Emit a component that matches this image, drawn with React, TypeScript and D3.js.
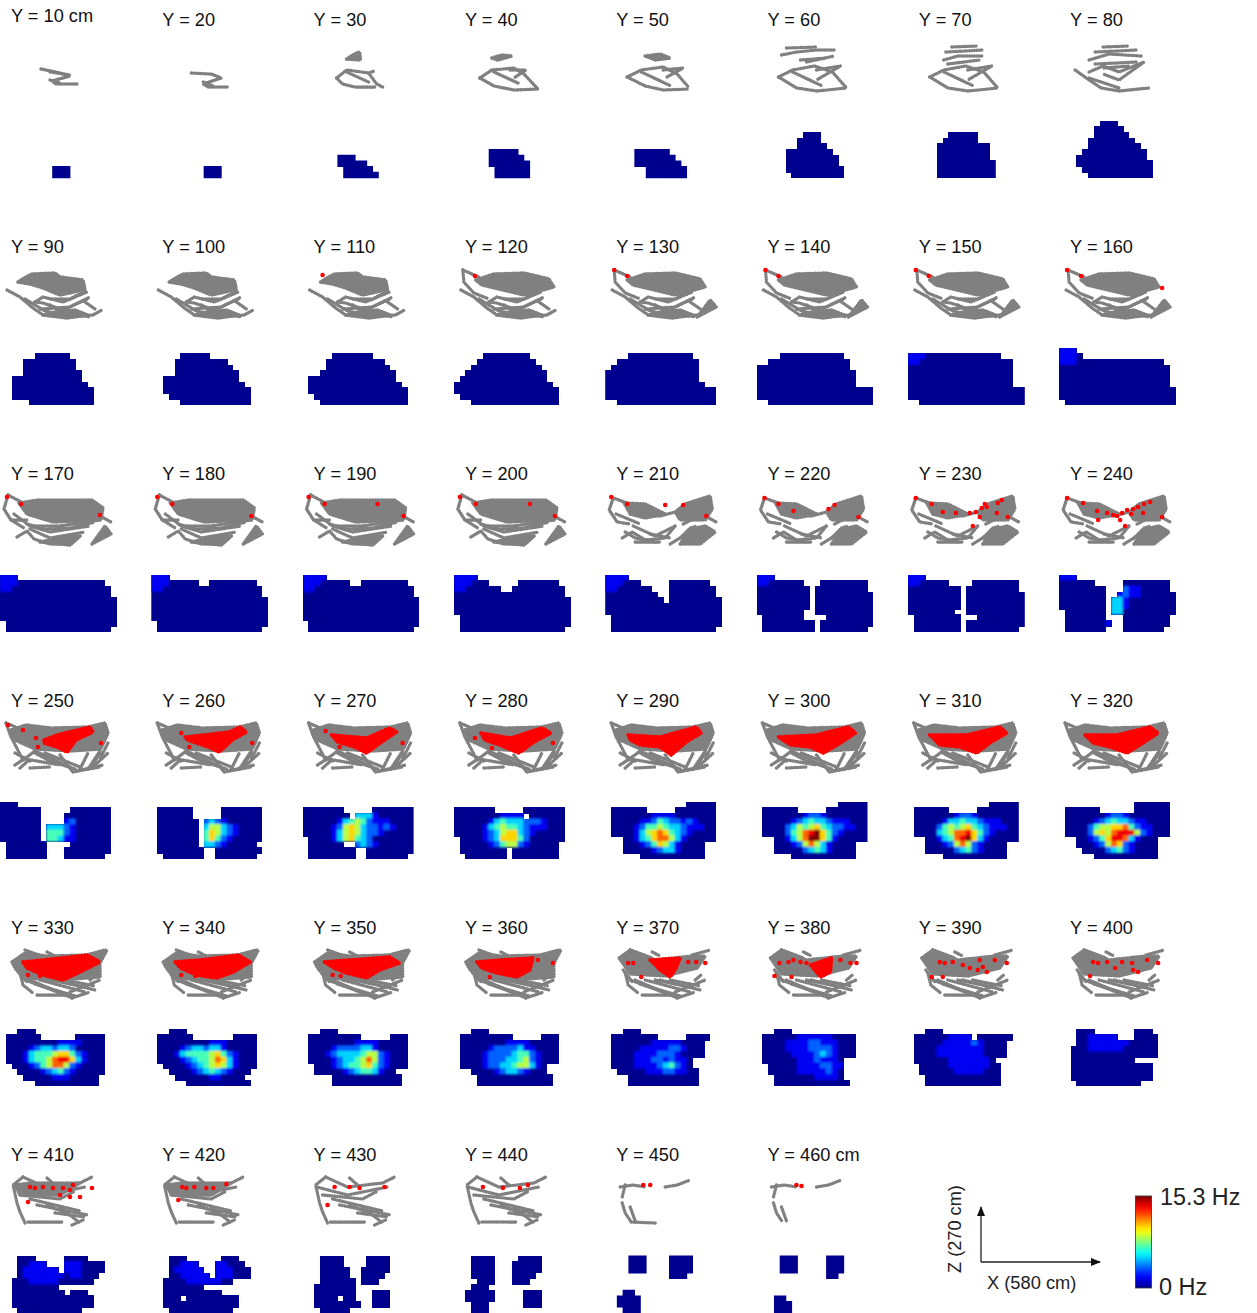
import React from "react";
import * as d3 from "d3";

// Slice positions along the Y axis (cm)
const sliceY = d3.range(10, 470, 10);
const COLS = 8;
const maxRate = 15.3;
const maxLevel = 9;

// Rate maps per slice: rows from top to bottom. "a-b" spans are silent bins (level 0); digits give a level per bin; "." or "_" means unvisited.
const heatRow1 = [
  "_ _ _ _ _ _ _ _ 9-11 9-11",
  "_ _ _ _ _ _ _ _ 9-11 9-11",
  "_ _ _ _ _ _ 6-8 6-10 7-11 7-12",
  "_ _ _ _ _ 6-10 6-11 6-12 7-12 7-12",
  "_ _ _ _ _ 5-10 5-11 5-12 7-13 7-13",
  "_ _ 8-10 7-10 7-11 5-12 5-13 5-13 5-14 6-14",
  "_ _ 7-11 6-11 5-13 5-13 5-13 5-14 5-14 5-14",
  "7-9 6-10 6-11 5-12 5-13 4-14 3-14 3-15 4-15 5-15",
];
const heatRow2 = [
  "_ 6-11 4-12 4-12 4-13 2-13 2-14 2-15 2-15 5-15",
  "_ 5-9 4-12 4-13 4-14 2-14 2-15 2-16 3-16 5-16",
  "_ 5-11 4-13 4-14 3-15 1-15 1-16 1-17 2-17 3-17",
  "_ 5-12 4-13 3-14 2-15 1-15 0-16 0-17 1-17 3-17",
  "_ 4-14 2-15 1-15 0-15 0-15 0-16 0-18 0-18 2-18",
  "_ 4-14 2-15 0-15 0-16 0-16 0-16 0-19 0-19 2-19",
  "_ 1110000000000000 110000000000000000 0-17 0-17 0-17 0-17 0-19 0-19 2-19",
  "111 1110 111000000000000000 0-18 0-18 0-18 0-18 0-19 0-19 1-19",
];
const heatRow3 = [
  "111 111000000000000000 1100000000000000000 0-18 0-19 0-19 0-19 0-19 1-19 1-18",
  "111 11100000..00000000 1100000000000000000 0-18 0-19 0-19 0-19 0-19 1-19 1-18",
  "1111 11100000..00000000 1100000000000000000 0-18 0-19 0-19 0-19 0-19 1-19 1-18",
  "1111 111000.....0000000 11000000..000000000 0-18 0-19 0-19 0-19 1-19 1-19 1-18",
  "1111 111000.....0000000 11000000...00000000 0-8,11-18 0-9,11-19 0-19 0-19 1-19 1-19 1-18",
  "111 11000000...00000000 0-8,10-18 0-8,10-19 0-8,10-19 0-8,10-19 0-7,10-19 1-7,12-19 1-9,11-19 1-9,11-18",
  "111 1100000....00000000 0-8,10-18 0-8,10-19 0-8,10-19 0-8,10-19 0-7,10-19 1-8,12-19 1-8,10-19 1-8,10-18",
  "111 0-5,11-18 00000000...21100000 00000000..1211000000 00000000.33100000000 00000000.33100000000 .0000000.33000000000 .0000000...00000000 .00000001..00000000 .0000000...0000000",
];
const heatRow4 = [
  "000 0-6,12-18 0-6,11-18 0000000....12000000 0000000.33321000000 0000000.44421000000 0000000.44311000000 .0000000....0000000 .0000000...00000000 .0000000...0000000",
  "_ .000000.....0000000 .000000.....0000000 .0000000.2321000000 .0000000.3553210000 .0000000.4653210000 .0000000.4642100000 .0000000.332100000 .00000000..00000000 ..0000000..0000000",
  "_ 0000000.....0000000 00000000.3331000000 0000001345421110000 0000012565322121000 0000013565322100000 .000013564320000000 .000000..2321000000 .00000000..00000000 .00000000..0000000",
  "_ 0000000.....0000000 000000001111.000000 0000001343332221000 0000013454432111000 0000012356632100000 .000012366642000000 .00000124552100000 .00000000.00000000 ..0000000.00000000",
  "..............00000 .000000.....0000000 .000000011110000000 .000001124322121000 .000012445433211100 .000013567643210000 ...0013467753100000 ...00012465310000 ...00000123310000 ......00000000000",
  "..............00000 .000000.....0000000 .000000012210000000 .000001234332111000 .000023545643221100 .000024578964210000 ...0013579964100000 ...00012575310000 ...00000234310000 ......00000000000",
  "..............00000 .000000.....0000000 .000000012210000000 .000001334332111000 .000024545643211100 .000034577864210000 ...0013478963100000 ...00012575210000 ...00000234210000 ......00000000000",
  ".............000000 .000000......000000 .000000012210000000 .000001234332110000 .000024556674211000 .000025657888521000 ...00124688731000 ...00012576210000 ....0000234210000 ......00000000000",
];
const heatRow5 = [
  "...000 .000000......00000 .00000000011110000 .00001233233200000 .00013444566421000 .00013445788631000 ..0001245775210000 ...000012342100000 ....0000011100000 ......00000000000",
  "...000 .000000.......0000 .00000000011100000 .00001233233100000 .00013444456421000 .00001234457631000 ..0000123456531000 ...00001234321000 ....000000110000 ......00000000000",
  "...000 .000000000.....000 .00000000111100000 .00001222233100000 .00012333345521000 .00001233457521000 ..0001234456421000 ..00000123443100 .....000000000000 .....000000000000",
  "...000 .000000000.....000 .00000000111100000 .00000122223110000 .00001222234421000 .00001222334521000 .000012233455310 ...0000123321000 ....0000000000000 ....0000000000000",
  "...000 .00000000.....0000 .0000000111110000 .0000011111221000 .0000111122210000 .00001112212110 .00001111234210 ..00000111221100 ....000000000000 ....000000000000",
  "...000 .0000001111110000 .0000111122111000 .0000111122221000 .0000011112321000 .00000011121110 ..0000011112211 ..0000011111210 ...000000011110 ...0000000000000",
  "...000 .0000001111.000000 .0000011111210000 .0000111111110000 .0000111111110000 .00000011111110 ..00000111111100 ..00000011111000 ...0000000000000 ...0000000000000",
  "...000.......000 ...0011111...0000 ...00111111100000 ..000111111000000 ..000000000000000 ..00000000000 ..00000000000000 ..00000000000000 ..00000000000000 ...00000000000",
];
const heatRow6 = [
  "3-5,11-14 ...00111...1110000 ...0111111.1110000 ...01111111011000 ..00011111000000 2-9 2-10,12-14 2-15 2-15 3-13",
  "3-5,12-14 ...00111...11000 ...011111..111000 ...0011111.111000 ..000011111100 2-8 2-11 2-4,6-14 2-14 3-13",
  "3-6,11-14 3-6,11-14 3-7,10-14 3-7,10-13 3-8,10-12 2-8 2-8,12-14 2-5,7-8,12-14 2-9,12-14 3-7",
  "3-6,11-14 3-6,10-14 3-6,10-14 3-6,10-13 4-6,10-12 3-5 2-6,12-14 2-6,12-14 3-5,12-14 3-5",
  "4-6,11-14 4-6,11-14 4-6,11-14 11-13 _ _ 3-4 2-5 2-5 3-5",
  "4-6,12-14 4-6,12-14 4-6,12-14 12-13 _ _ _ 3-4 3-5 3-5",
];
const heatMaps = [...heatRow1, ...heatRow2, ...heatRow3, ...heatRow4, ...heatRow5, ...heatRow6];

// Animal trajectory: dense regions and strands, with the slices in which they appear
const denseRegions: [number, number, string][] = [
  [30, 30, "44,59 52,54 57,52 58,60"],
  [40, 40, "38,58 48,55 58,56 44,60"],
  [50, 50, "40,56 55,54 65,58 50,60"],
  [90, 110, "18,55 26,50 32,47 55,46 60,50 83,53 85,62 70,66 60,68 43,61 30,57"],
  [90, 160, "43,88 67,91 88,88 75,83 55,85"],
  [120, 160, "22,53 40,47 70,46 95,52 100,60 70,68 45,62 28,58"],
  [130, 160, "92,90 111,80 105,73"],
  [170, 200, "19,49 38,46 92,46 103,54 101,66 53,68 27,60"],
  [170, 200, "92,90 111,80 105,72"],
  [170, 200, "40,88 70,91 80,82 60,84"],
  [210, 240, "19,49 40,50 60,60 40,64 25,60"],
  [210, 240, "70,58 80,50 105,42 107,55 100,66 75,66"],
  [210, 240, "75,90 85,75 100,72 110,78 95,90"],
  [250, 320, "11,49 26,44 51,47 88,46 105,42 108,52 101,68 70,70 35,68 15,59"],
  [330, 360, "12,54 25,45 47,48 87,47 107,42 100,55 100,69 60,72 23,70 15,60"],
  [370, 400, "14,50 25,42 50,52 87,48 100,48 92,60 60,68 25,66"],
  [410, 420, "15,50 30,48 80,48 60,60 20,60"],
];
const strands: [number, number, string][] = [
  [10, 10, "41,69 60,73 70,76 52,81 56,84 77,84"],
  [10, 10, "50,72 70,75"],
  [10, 10, "50,80 60,83"],
  [20, 20, "40,73 60,74 70,78 52,84 57,87 77,87"],
  [20, 20, "52,82 62,86"],
  [30, 30, "34,78 44,70 66,73 74,84 80,87"],
  [30, 30, "34,78 40,84 52,87 74,87"],
  [30, 30, "44,72 66,82"],
  [30, 30, "66,73 72,71"],
  [40, 40, "26,78 38,70 60,68 70,74 84,89"],
  [40, 40, "26,78 40,86 60,90 84,89"],
  [40, 40, "40,72 66,84"],
  [40, 40, "56,70 72,70 60,78"],
  [50, 50, "22,77 36,70 58,67 72,74 84,88"],
  [50, 50, "22,77 40,86 58,90 84,89"],
  [50, 50, "36,72 66,86"],
  [50, 50, "58,70 78,68 60,78"],
  [60, 60, "25,55 40,52 60,50 78,50"],
  [60, 60, "30,48 60,47"],
  [60, 60, "44,60 70,58"],
  [60, 60, "50,62 78,56"],
  [70, 70, "36,60 50,56 76,56"],
  [70, 70, "38,52 75,50"],
  [70, 70, "44,47 70,46"],
  [70, 70, "40,64 72,60"],
  [60, 70, "22,77 36,70 58,66 76,72 90,88"],
  [60, 70, "22,77 40,88 60,91 90,88"],
  [60, 70, "36,72 66,86"],
  [60, 70, "60,70 84,66 60,80"],
  [80, 80, "30,60 50,54 82,56"],
  [80, 80, "36,52 78,50"],
  [80, 80, "44,47 70,46"],
  [80, 80, "36,64 78,62"],
  [80, 80, "45,68 70,66"],
  [80, 80, "16,70 30,80 42,88 60,91 90,88"],
  [80, 80, "30,72 44,66 60,72 85,62 60,80 44,74"],
  [80, 80, "30,78 60,88"],
  [90, 160, "7,63 20,70 33,81 43,88 67,90 93,88 102,83"],
  [90, 160, "35,75 43,70 63,75 87,65"],
  [90, 160, "35,75 43,76 63,83 87,72"],
  [90, 160, "50,78 70,90"],
  [90, 160, "85,75 95,82"],
  [90, 160, "60,84 90,90"],
  [90, 160, "25,72 45,84 65,88"],
  [90, 160, "40,82 70,80 90,70"],
  [90, 160, "85,64 70,72 50,72"],
  [120, 160, "9,43 10,55 20,66 35,72"],
  [120, 160, "9,43 25,50"],
  [170, 200, "8,41 4,55 11,66 27,66"],
  [170, 200, "8,41 25,50"],
  [170, 200, "17,83 27,77 34,85 50,90 71,90 80,82"],
  [170, 200, "27,70 45,75 70,74 95,68"],
  [170, 200, "30,75 50,84 85,78"],
  [170, 200, "14,60 30,72 50,78 90,72"],
  [170, 200, "11,66 24,74"],
  [170, 200, "35,72 60,72 100,66"],
  [170, 240, "100,62 111,68"],
  [210, 240, "8,44 4,56 12,68 25,70"],
  [210, 240, "8,44 30,52 60,60"],
  [210, 240, "25,60 55,62 70,58"],
  [210, 240, "17,84 27,78 40,86 60,84 70,72"],
  [210, 240, "28,72 50,82 70,72"],
  [210, 240, "30,88 55,88"],
  [210, 240, "75,84 85,74 92,72"],
  [210, 240, "11,60 35,70"],
  [210, 240, "45,80 65,84"],
  [210, 240, "78,70 90,64"],
  [210, 240, "20,78 30,84 50,88"],
  [210, 240, "65,90 78,82"],
  [250, 320, "6,42 11,56 23,79"],
  [250, 320, "6,42 25,50"],
  [250, 320, "15,84 27,76 35,70"],
  [250, 320, "20,87 30,78"],
  [250, 320, "30,87 50,86"],
  [250, 320, "35,72 50,80 75,88"],
  [250, 320, "76,90 103,84"],
  [250, 320, "80,88 88,72"],
  [250, 320, "88,88 100,70"],
  [250, 320, "95,84 108,72"],
  [250, 320, "25,78 60,84"],
  [250, 320, "73,91 100,86"],
  [250, 320, "35,70 70,86"],
  [250, 320, "45,72 80,86"],
  [250, 320, "15,72 30,80"],
  [250, 320, "60,74 72,90"],
  [250, 320, "100,72 90,88"],
  [250, 320, "108,62 100,78"],
  [330, 400, "25,42 47,50"],
  [330, 400, "47,44 55,48"],
  [330, 400, "87,47 105,42"],
  [330, 400, "20,65 23,77 33,85"],
  [330, 400, "37,87 72,87"],
  [330, 400, "30,72 72,90"],
  [330, 400, "40,72 85,84"],
  [330, 400, "55,72 95,82"],
  [330, 400, "72,90 90,84"],
  [330, 400, "90,72 97,66"],
  [330, 400, "25,72 60,85"],
  [330, 400, "35,76 75,88"],
  [330, 400, "50,72 90,80"],
  [330, 400, "65,72 95,78"],
  [330, 400, "18,62 28,75"],
  [330, 400, "70,84 100,72"],
  [410, 440, "23,42 13,50 17,68 20,77 25,88"],
  [410, 440, "28,87 63,87"],
  [410, 440, "37,70 88,80"],
  [410, 440, "47,70 70,80"],
  [410, 440, "60,72 80,88"],
  [410, 440, "72,90 83,85"],
  [410, 440, "23,42 45,52 80,48 92,42"],
  [410, 440, "47,43 55,50"],
  [410, 440, "14,52 45,60 85,52"],
  [410, 440, "20,60 60,64 75,56"],
  [410, 440, "30,64 80,76"],
  [410, 440, "55,78 85,82"],
  [450, 460, "15,52 28,50 40,52"],
  [450, 460, "20,50 17,62"],
  [450, 460, "60,52 72,50 85,45"],
  [450, 460, "17,68 20,78 26,87"],
  [450, 450, "26,87 50,88"],
  [450, 460, "25,72 30,86"],
];

// Positions of spikes: merged clouds and isolated spikes per slice
const spikeClouds: Record<number, string> = {
  250: "44,59 57,54 90,46 93,51 76,59 67,71 57,66 44,62",
  260: "34,56 78,51 89,46 95,51 81,59 68,71 57,66 36,59",
  270: "29,54 64,57 87,47 94,51 79,61 64,72 52,66 35,61",
  280: "27,52 57,57 88,47 97,52 80,61 65,72 46,64 31,59",
  290: "23,54 55,56 91,46 96,52 81,61 66,74 55,66 35,64 25,59",
  300: "22,56 60,54 92,46 99,52 84,62 67,72 54,66 34,64",
  310: "22,54 59,54 92,46 99,52 82,62 69,72 52,66 32,64",
  320: "26,54 58,54 91,46 99,52 84,62 68,72 51,66 34,62",
  330: "23,54 43,52 87,47 100,54 80,64 63,72 43,67 27,60",
  340: "24,54 49,52 87,47 99,54 82,64 65,70 45,67 29,60",
  350: "22,54 47,52 87,49 97,55 77,62 64,70 44,65 31,60",
  360: "23,54 46,52 79,50 76,62 63,69 43,65 28,60",
  370: "45,52 75,50 71,60 65,69 55,62",
  380: "54,57 75,50 74,64 64,69",
};
const spikeDots: Record<number, string> = {
  110: "20,48",
  120: "21,49",
  130: "9,43 22,49",
  140: "9,43 22,49",
  150: "8,43 21,49",
  160: "8,43 22,49 103,61",
  170: "7,43 21,50 100,61",
  180: "6,43 21,50 100,62",
  190: "6,43 22,50 75,50 101,62",
  200: "6,43 22,50 76,50 101,62",
  210: "6,43 22,50 60,51 78,51 101,62",
  220: "8,44 22,50 37,57 72,55 78,51 102,63",
  230: "8,44 24,50 35,58 48,59 62,59 65,72 72,63 74,54 79,53 90,49 94,46 89,59 100,63 77,50 68,58",
  240: "8,44 24,49 38,57 48,59 54,61 39,66 61,66 66,72 63,59 68,56 74,55 79,53 85,50 91,48 84,59 103,63 72,60 58,62",
  250: "8,44 23,49 36,57 101,62 38,66",
  260: "30,52 38,66 101,62",
  270: "23,50 37,66 100,62",
  280: "21,57 38,67 99,62",
  330: "28,67 40,68",
  340: "30,67 44,68",
  350: "30,67 38,68",
  360: "36,69 84,52 99,55",
  370: "23,55 28,55 36,69 83,54 91,54 100,55",
  380: "23,55 32,54 37,52 44,54 50,55 84,52 94,55 100,55 35,69 18,68",
  390: "32,54 37,55 45,54 55,57 62,60 72,52 70,62 75,59 87,52 99,55 35,69 24,69 79,64",
  400: "34,54 39,55 48,54 56,60 63,54 73,55 74,62 88,52 99,55 31,68 79,64",
  410: "30,52 35,53 43,52 53,53 63,53 70,55 73,50 92,53 60,60 80,62 28,67 70,62",
  420: "31,52 35,53 43,52 55,53 62,53 75,49 27,65",
  430: "32,52 47,52 57,53 82,52 25,70",
  440: "29,52 49,53 66,53 74,50",
  450: "38,50 45,50",
  460: "40,50 45,51",
};

const xAxisCm = 580;
const zAxisCm = 270;
const rateLabels = ["15.3 Hz", "0 Hz"];

const colWidth = 151.3;
const rowHeight = 227;
const panelW = 116;
const GRID_W = 20;
const GRID_H = 10;

const xBand = d3.scaleLinear().domain([0, GRID_W]).range([0, panelW]);
const zBand = d3.scaleLinear().domain([0, GRID_H]).range([120.5, 177.5]);
const xPath = d3.scaleLinear().domain([0, 116]).range([0, 116]);
const zPath = d3.scaleLinear().domain([40, 92]).range([40, 92]);
const jetColor = d3
  .scaleLinear<string>()
  .domain([0, 0.125, 0.375, 0.625, 0.875, 1].map((f) => f * maxRate))
  .range(["#00008f", "#0000ff", "#00ffff", "#ffff00", "#ff0000", "#800000"]);
const lineGen = d3
  .line<[number, number]>()
  .x((p) => xPath(p[0]))
  .y((p) => zPath(p[1]));

const pairs = (s: string): [number, number][] =>
  s.split(" ").map((t) => t.split(",").map(Number) as [number, number]);

type Cell = { c: number; r: number; hz: number };
function parseHeat(code: string): Cell[] {
  const cells: Cell[] = [];
  code.split(" ").forEach((tok, r) => {
    if (tok.includes("-")) {
      tok.split(",").forEach((sp) => {
        const [a, b] = sp.split("-").map(Number);
        for (let c = a; c <= b; c++) cells.push({ c, r, hz: 0 });
      });
    } else {
      [...tok].forEach((ch, c) => {
        if (ch >= "0" && ch <= "9") cells.push({ c, r, hz: (+ch / maxLevel) * maxRate });
      });
    }
  });
  return cells;
}

function Panel({ y, i }: { y: number; i: number }) {
  const col = i % COLS;
  const row = Math.floor(i / COLS);
  const cells = parseHeat(heatMaps[i]);
  const cw = xBand(1) - xBand(0);
  const ch = zBand(1) - zBand(0);
  const hot = cells.filter((d) => d.hz > 0);
  const inSlice = (t: [number, number, string]) => y >= t[0] && y <= t[1];
  const label = y === 10 ? "Y = 10 cm" : y === 460 ? "Y = 460 cm" : `Y = ${y}`;
  return (
    <g transform={`translate(${col * colWidth},${row * rowHeight})`}>
      <text x={11} y={y === 10 ? 22 : 25.5} fontSize={18.2} fontFamily="'Liberation Sans',Arial,sans-serif" fill="#111">
        {label}
      </text>
      <g filter="url(#soft)">
        {denseRegions.filter(inSlice).map((t, k) => (
          <path key={k} d={lineGen(pairs(t[2])) + "Z"} fill="#808080" stroke="#808080" strokeWidth={3.6} strokeLinecap="round" strokeLinejoin="round" strokeDasharray="0.1 2.6" />
        ))}
        {strands.filter(inSlice).map((t, k) => (
          <path key={k} d={lineGen(pairs(t[2])) || ""} fill="none" stroke="#808080" strokeWidth={3.4} strokeLinecap="round" strokeLinejoin="round" strokeDasharray="0.1 2.3" />
        ))}
        {spikeClouds[y] && (
          <path d={lineGen(pairs(spikeClouds[y])) + "Z"} fill="#ff0000" stroke="#ff0000" strokeWidth={3.8} strokeLinecap="round" strokeLinejoin="round" strokeDasharray="0.1 3" />
        )}
        {spikeDots[y] &&
          pairs(spikeDots[y]).map((p, k) => <circle key={k} cx={xPath(p[0])} cy={zPath(p[1])} r={2.3} fill="#ff0000" />)}
      </g>
      <clipPath id={`shape${y}`}>
        {cells.map((d) => (
          <rect key={`${d.c}-${d.r}`} x={xBand(d.c)} y={zBand(d.r)} width={cw + 0.8} height={ch + 0.8} shapeRendering="crispEdges" />
        ))}
      </clipPath>
      <g filter="url(#soft)">
        <g clipPath={`url(#shape${y})`}>
          <rect x={-2} y={116} width={panelW + 6} height={66} fill={jetColor(0)} />
          {hot.length > 0 && (
            <g filter="url(#smooth)">
              {hot.map((d) => (
                <rect key={`${d.c}-${d.r}`} x={xBand(d.c) - 0.3} y={zBand(d.r) - 0.3} width={cw + 0.6} height={ch + 0.6} fill={jetColor(d.hz)} />
              ))}
            </g>
          )}
        </g>
      </g>
    </g>
  );
}

export default function App() {
  const ramp = d3.range(0, 1.0001, 0.05);
  return (
    <svg width={1257} height={1313} style={{ position: "absolute", left: 0, top: 0, background: "#fff" }}>
      <defs>
        <filter id="soft" x="-10%" y="-10%" width="120%" height="120%">
          <feGaussianBlur stdDeviation={0.5} />
        </filter>
        <filter id="smooth" x="-20%" y="-20%" width="140%" height="140%">
          <feGaussianBlur stdDeviation={1.3} />
        </filter>
        <linearGradient id="jetBar" x1="0" y1="1" x2="0" y2="0">
          {ramp.map((f) => (
            <stop key={f} offset={f} stopColor={jetColor(f * maxRate)} />
          ))}
        </linearGradient>
        <marker id="head" viewBox="0 0 10 8" refX={9} refY={4} markerWidth={10} markerHeight={8} orient="auto" markerUnits="userSpaceOnUse">
          <path d="M0,0L10,4L0,8Z" fill="#111" />
        </marker>
      </defs>
      {sliceY.map((y, i) => (
        <Panel key={y} y={y} i={i} />
      ))}
      <path d="M981,1262V1207" stroke="#222" strokeWidth={1.3} fill="none" markerEnd="url(#head)" />
      <path d="M981,1262H1100" stroke="#222" strokeWidth={1.3} fill="none" markerEnd="url(#head)" />
      <g fontFamily="'Liberation Sans',Arial,sans-serif" fill="#222">
        <text x={987} y={1289} fontSize={18.3}>{`X (${xAxisCm} cm)`}</text>
        <text transform="translate(961,1273) rotate(-90)" fontSize={18.2}>{`Z (${zAxisCm} cm)`}</text>
        <text x={1160} y={1205} fontSize={23.3}>{rateLabels[0]}</text>
        <text x={1159} y={1295} fontSize={23.5}>{rateLabels[1]}</text>
      </g>
      <rect x={1135.5} y={1196} width={16} height={92} fill="url(#jetBar)" stroke="#333" strokeWidth={0.8} />
    </svg>
  );
}
